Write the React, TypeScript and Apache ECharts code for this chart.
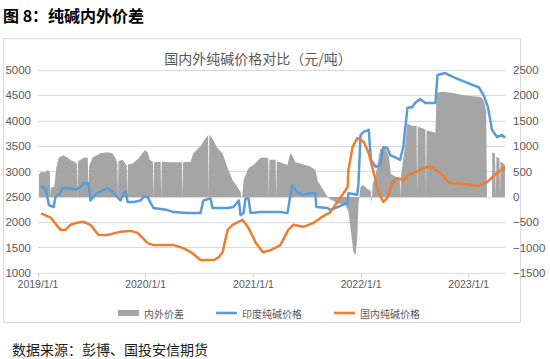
import React, { useEffect, useRef } from 'react';
import * as echarts from 'echarts';

// ---- data ----
const xStart = '2019-01-01';
const xEnd = '2023-05-04';
const yearTicks = ['2019-01-01', '2020-01-01', '2021-01-01', '2022-01-01', '2023-01-01'];

const seriesNames = ['内外价差', '印度纯碱价格', '国内纯碱价格'];

// 内外价差 (right axis, 元/吨)
const spreadData: [string, number][] = [
  ['2019-01-04', 440], ['2019-01-11', 490], ['2019-01-25', 480], ['2019-02-03', 530],
  ['2019-02-10', 500], ['2019-02-12', 0], ['2019-02-14', 180], ['2019-02-25', 200],
  ['2019-03-04', 570], ['2019-03-12', 770], ['2019-03-28', 820], ['2019-04-12', 770],
  ['2019-04-20', 730], ['2019-05-08', 680], ['2019-05-13', 650], ['2019-05-15', 0],
  ['2019-05-17', 700], ['2019-05-25', 730], ['2019-06-11', 780], ['2019-06-19', 760],
  ['2019-06-21', 0], ['2019-06-23', 600], ['2019-07-05', 780], ['2019-07-20', 820],
  ['2019-07-31', 860], ['2019-08-25', 880], ['2019-09-11', 860], ['2019-09-21', 760],
  ['2019-09-27', 660], ['2019-09-29', 0], ['2019-10-01', 700], ['2019-10-15', 730],
  ['2019-10-29', 620], ['2019-10-31', 0], ['2019-11-02', 640], ['2019-11-18', 660],
  ['2019-12-08', 760], ['2019-12-29', 920], ['2020-01-08', 880], ['2020-01-15', 730],
  ['2020-01-26', 680], ['2020-01-28', 0], ['2020-01-30', 680], ['2020-02-21', 690],
  ['2020-02-23', 0], ['2020-02-25', 690], ['2020-03-25', 680], ['2020-05-03', 680],
  ['2020-05-05', 0], ['2020-05-07', 680], ['2020-06-01', 690], ['2020-06-11', 860],
  ['2020-07-05', 1000], ['2020-07-22', 1150], ['2020-07-31', 1220], ['2020-08-02', 0],
  ['2020-08-04', 1220], ['2020-08-15', 1150], ['2020-09-01', 960], ['2020-09-18', 860],
  ['2020-10-05', 570], ['2020-10-22', 330], ['2020-11-08', 190], ['2020-11-18', 100],
  ['2020-11-21', 0], ['2020-11-24', 0], ['2020-11-28', 330], ['2020-12-15', 570],
  ['2021-01-01', 630], ['2021-01-25', 770], ['2021-02-20', 770], ['2021-02-22', 0],
  ['2021-02-24', 730], ['2021-03-17', 730], ['2021-03-19', 0], ['2021-03-21', 700],
  ['2021-04-13', 660], ['2021-04-26', 630], ['2021-05-06', 860], ['2021-05-12', 820],
  ['2021-05-23', 680], ['2021-06-09', 660], ['2021-06-26', 630], ['2021-07-12', 600],
  ['2021-07-30', 530], ['2021-08-06', 330], ['2021-08-22', 170], ['2021-09-09', 0],
  ['2021-09-19', -50], ['2021-10-13', -120], ['2021-11-09', -160], ['2021-11-19', -300],
  ['2021-11-26', -620], ['2021-12-06', -1090], ['2021-12-13', -1150], ['2021-12-19', -800],
  ['2021-12-23', -150], ['2021-12-30', 200], ['2022-01-10', 230], ['2022-01-23', 150],
  ['2022-02-03', 120], ['2022-02-06', -150], ['2022-02-09', 250], ['2022-02-20', 450],
  ['2022-03-07', 950], ['2022-03-24', 960], ['2022-04-05', 800], ['2022-04-12', 450],
  ['2022-04-27', 400], ['2022-05-12', 370], ['2022-05-14', 0], ['2022-05-16', 400],
  ['2022-05-30', 1000], ['2022-06-07', 1450], ['2022-06-20', 1400], ['2022-07-08', 1400],
  ['2022-07-10', 0], ['2022-07-12', 1380], ['2022-07-23', 1360], ['2022-08-07', 1330],
  ['2022-08-09', 0], ['2022-08-11', 1310], ['2022-09-10', 1270], ['2022-09-14', 2050],
  ['2022-10-07', 2070], ['2022-11-10', 2040], ['2022-12-21', 2000], ['2023-02-11', 1970],
  ['2023-02-21', 1900], ['2023-03-01', 1700], ['2023-03-04', 0], ['2023-03-21', 0],
  ['2023-03-22', 880], ['2023-03-31', 850], ['2023-04-03', 0], ['2023-04-05', 790],
  ['2023-04-15', 760], ['2023-04-17', 0], ['2023-04-19', 700], ['2023-05-04', 630],
];

// 印度纯碱价格 (left axis, 元/吨)
const indiaPrice: [string, number][] = [
  ['2019-01-11', 2715], ['2019-01-28', 2640], ['2019-02-07', 2340], ['2019-02-23', 2300],
  ['2019-03-01', 2500], ['2019-03-18', 2570], ['2019-03-24', 2670], ['2019-04-21', 2670],
  ['2019-05-08', 2640], ['2019-05-25', 2690], ['2019-06-04', 2770], ['2019-06-21', 2770],
  ['2019-06-28', 2430], ['2019-07-14', 2540], ['2019-07-25', 2590], ['2019-08-25', 2670],
  ['2019-09-11', 2590], ['2019-10-08', 2430], ['2019-10-18', 2570], ['2019-10-25', 2610],
  ['2019-11-01', 2400], ['2019-11-22', 2400], ['2019-12-15', 2430], ['2019-12-25', 2500],
  ['2020-01-08', 2500], ['2020-01-18', 2380], ['2020-01-28', 2280], ['2020-03-15', 2240],
  ['2020-04-05', 2200], ['2020-05-22', 2180], ['2020-07-05', 2180], ['2020-07-15', 2430],
  ['2020-08-08', 2470], ['2020-08-15', 2280], ['2020-10-05', 2280], ['2020-10-25', 2300],
  ['2020-11-12', 2430], ['2020-11-18', 2140], ['2020-11-28', 2180], ['2020-12-05', 2470],
  ['2020-12-15', 2470], ['2020-12-22', 2180], ['2021-01-25', 2200], ['2021-04-02', 2200],
  ['2021-04-26', 2180], ['2021-05-12', 2730], ['2021-05-29', 2590], ['2021-06-19', 2540],
  ['2021-07-12', 2570], ['2021-07-30', 2570], ['2021-08-02', 2300], ['2021-09-09', 2280],
  ['2021-09-19', 2240], ['2021-10-13', 2300], ['2021-11-16', 2380], ['2021-11-19', 2570],
  ['2021-12-19', 2540], ['2021-12-23', 2770], ['2021-12-30', 3720], ['2022-01-10', 3780],
  ['2022-01-27', 3820], ['2022-02-03', 3230], ['2022-02-20', 3090], ['2022-03-07', 3130],
  ['2022-03-17', 3480], ['2022-03-31', 3460], ['2022-04-10', 3320], ['2022-04-27', 3280],
  ['2022-05-13', 3230], ['2022-05-24', 3480], ['2022-06-07', 4250], ['2022-06-24', 4270],
  ['2022-07-03', 4350], ['2022-07-20', 4430], ['2022-08-07', 4350], ['2022-09-10', 4350],
  ['2022-09-17', 4900], ['2022-10-13', 4940], ['2022-11-10', 4860], ['2022-12-21', 4760],
  ['2023-02-04', 4660], ['2023-02-21', 4500], ['2023-03-07', 4270], ['2023-03-21', 3820],
  ['2023-04-07', 3680], ['2023-04-25', 3720], ['2023-05-04', 3660],
];

// 国内纯碱价格 (left axis, 元/吨)
const domesticPrice: [string, number][] = [
  ['2019-01-11', 2177], ['2019-02-14', 2085], ['2019-03-18', 1850], ['2019-04-04', 1850],
  ['2019-04-21', 1950], ['2019-05-13', 1990], ['2019-06-04', 2010], ['2019-06-28', 1950],
  ['2019-07-25', 1750], ['2019-08-25', 1750], ['2019-10-08', 1815], ['2019-11-11', 1830],
  ['2019-12-05', 1790], ['2020-01-08', 1590], ['2020-01-28', 1550], ['2020-04-05', 1550],
  ['2020-05-08', 1490], ['2020-06-08', 1390], ['2020-07-05', 1255], ['2020-08-19', 1255],
  ['2020-09-05', 1310], ['2020-09-18', 1410], ['2020-10-05', 1850], ['2020-10-22', 1950],
  ['2020-11-25', 2045], ['2020-12-15', 1890], ['2021-01-09', 1590], ['2021-02-02', 1410],
  ['2021-02-28', 1450], ['2021-04-02', 1550], ['2021-04-29', 1850], ['2021-05-16', 1950],
  ['2021-06-19', 1910], ['2021-07-23', 1985], ['2021-08-16', 2085], ['2021-09-19', 2200],
  ['2021-10-16', 2430], ['2021-11-16', 2690], ['2021-11-19', 3030], ['2021-12-03', 3480],
  ['2021-12-19', 3660], ['2022-01-10', 3580], ['2022-01-27', 3360], ['2022-02-13', 2970],
  ['2022-03-01', 2590], ['2022-03-17', 2400], ['2022-03-31', 2480], ['2022-04-16', 2770],
  ['2022-05-04', 2870], ['2022-05-24', 2830], ['2022-06-10', 2930], ['2022-06-27', 2970],
  ['2022-07-20', 3030], ['2022-08-13', 3090], ['2022-09-03', 3070], ['2022-09-27', 2970],
  ['2022-10-24', 2790], ['2022-11-10', 2770], ['2022-12-28', 2750], ['2023-02-01', 2710],
  ['2023-03-04', 2790], ['2023-04-07', 2970], ['2023-05-04', 3090],
];

const leftAxis = { min: 1000, max: 5000, interval: 500 };
const rightAxis = { min: -1500, max: 2500, interval: 500 };

const mainTitle = '图 8：纯碱内外价差';
const chartTitle = '国内外纯碱价格对比（元/吨）';
const sourceText = '数据来源：彭博、国投安信期货';

const toXY = (arr: [string, number][]) => arr.map(([d, v]) => [Date.parse(d), v]);

const CJK = '"Noto Sans CJK SC", "Noto Sans", sans-serif';
const NUM = '"Liberation Sans", Arial, "Noto Sans CJK SC", sans-serif';
const LINE_ICON = 'path://M0,0H24V3H0Z';

export default function App() {
  const ref = useRef<HTMLDivElement>(null);
  useEffect(() => {
    if (!ref.current) return;
    const chart = echarts.init(ref.current, null, { renderer: 'svg' });
    const yearValues = yearTicks.map((d) => Date.parse(d));
    chart.setOption({
      animation: false,
      backgroundColor: '#ffffff',
      grid: { left: 38, right: 45, top: 70, bottom: 86, containLabel: false },
      graphic: [
        {
          type: 'rect',
          shape: { x: 3.5, y: 38.5, width: 517, height: 284 },
          style: { fill: 'transparent', stroke: '#D9D9D9', lineWidth: 1 },
          silent: true,
        },
        {
          type: 'text',
          x: 3,
          y: 15,
          style: {
            text: mainTitle,
            fontSize: 16,
            fontWeight: 'bold',
            fontFamily: CJK,
            fill: '#000000',
            verticalAlign: 'middle',
            textAlign: 'left',
          },
        },
        {
          type: 'text',
          x: 258,
          y: 58,
          style: {
            text: chartTitle,
            fontSize: 14,
            fontFamily: CJK,
            fill: '#595959',
            verticalAlign: 'middle',
            textAlign: 'center',
          },
        },
        {
          type: 'text',
          x: 12,
          y: 349,
          style: {
            text: sourceText,
            fontSize: 14,
            fontFamily: CJK,
            fill: '#1a1a1a',
            verticalAlign: 'middle',
            textAlign: 'left',
          },
        },
      ],
      legend: {
        left: 113,
        top: 303,
        itemWidth: 21,
        itemHeight: 6,
        itemGap: 32,
        symbolKeepAspect: true,
        textStyle: { fontSize: 10, color: '#595959', fontFamily: CJK },
        data: [
          { name: seriesNames[0], icon: 'rect' },
          { name: seriesNames[1], icon: LINE_ICON },
          { name: seriesNames[2], icon: LINE_ICON },
        ],
      },
      xAxis: {
        type: 'value',
        min: Date.parse(xStart),
        max: Date.parse(xEnd),
        splitLine: { show: false },
        axisLine: { show: true, onZero: false, lineStyle: { color: '#D9D9D9', width: 1 } },
        axisTick: {
          show: true,
          length: 5,
          lineStyle: { color: '#D9D9D9' },
          customValues: yearValues,
        },
        axisLabel: {
          customValues: yearValues,
          fontSize: 10.5,
          color: '#595959',
          fontFamily: NUM,
          margin: 6,
          formatter: (v: number) => `${new Date(v).getUTCFullYear()}/1/1`,
        },
      },
      yAxis: [
        {
          type: 'value',
          position: 'left',
          min: leftAxis.min,
          max: leftAxis.max,
          interval: leftAxis.interval,
          axisLine: { show: false },
          axisTick: { show: false },
          splitLine: { show: true, lineStyle: { color: '#D9D9D9', width: 1 } },
          axisLabel: {
            fontSize: 11.5,
            color: '#595959',
            fontFamily: NUM,
            margin: 7,
            formatter: (v: number) => String(v),
          },
        },
        {
          type: 'value',
          position: 'right',
          min: rightAxis.min,
          max: rightAxis.max,
          interval: rightAxis.interval,
          axisLine: { show: false },
          axisTick: { show: false },
          splitLine: { show: false },
          axisLabel: {
            fontSize: 11.5,
            color: '#595959',
            fontFamily: NUM,
            margin: 8,
            formatter: (v: number) => (v < 0 ? '\u2212' + Math.abs(v) : String(v)),
          },
        },
      ],
      series: [
        {
          name: seriesNames[0],
          type: 'line',
          yAxisIndex: 1,
          data: toXY(spreadData),
          symbol: 'none',
          lineStyle: { width: 0, color: '#A5A5A5' },
          itemStyle: { color: '#A5A5A5' },
          areaStyle: { color: '#A5A5A5', opacity: 1 },
          z: 1,
        },
        {
          name: seriesNames[1],
          type: 'line',
          yAxisIndex: 0,
          data: toXY(indiaPrice),
          symbol: 'none',
          lineStyle: { width: 2.5, color: '#5B9BD5', join: 'round' },
          itemStyle: { color: '#5B9BD5' },
          z: 2,
        },
        {
          name: seriesNames[2],
          type: 'line',
          yAxisIndex: 0,
          data: toXY(domesticPrice),
          symbol: 'none',
          lineStyle: { width: 2.5, color: '#ED7D31', join: 'round' },
          itemStyle: { color: '#ED7D31' },
          z: 3,
        },
      ],
    });
    return () => chart.dispose();
  }, []);
  return (
    <div
      ref={ref}
      style={{ position: 'fixed', left: 0, top: 0, width: 550, height: 359, background: '#fff' }}
    />
  );
}
